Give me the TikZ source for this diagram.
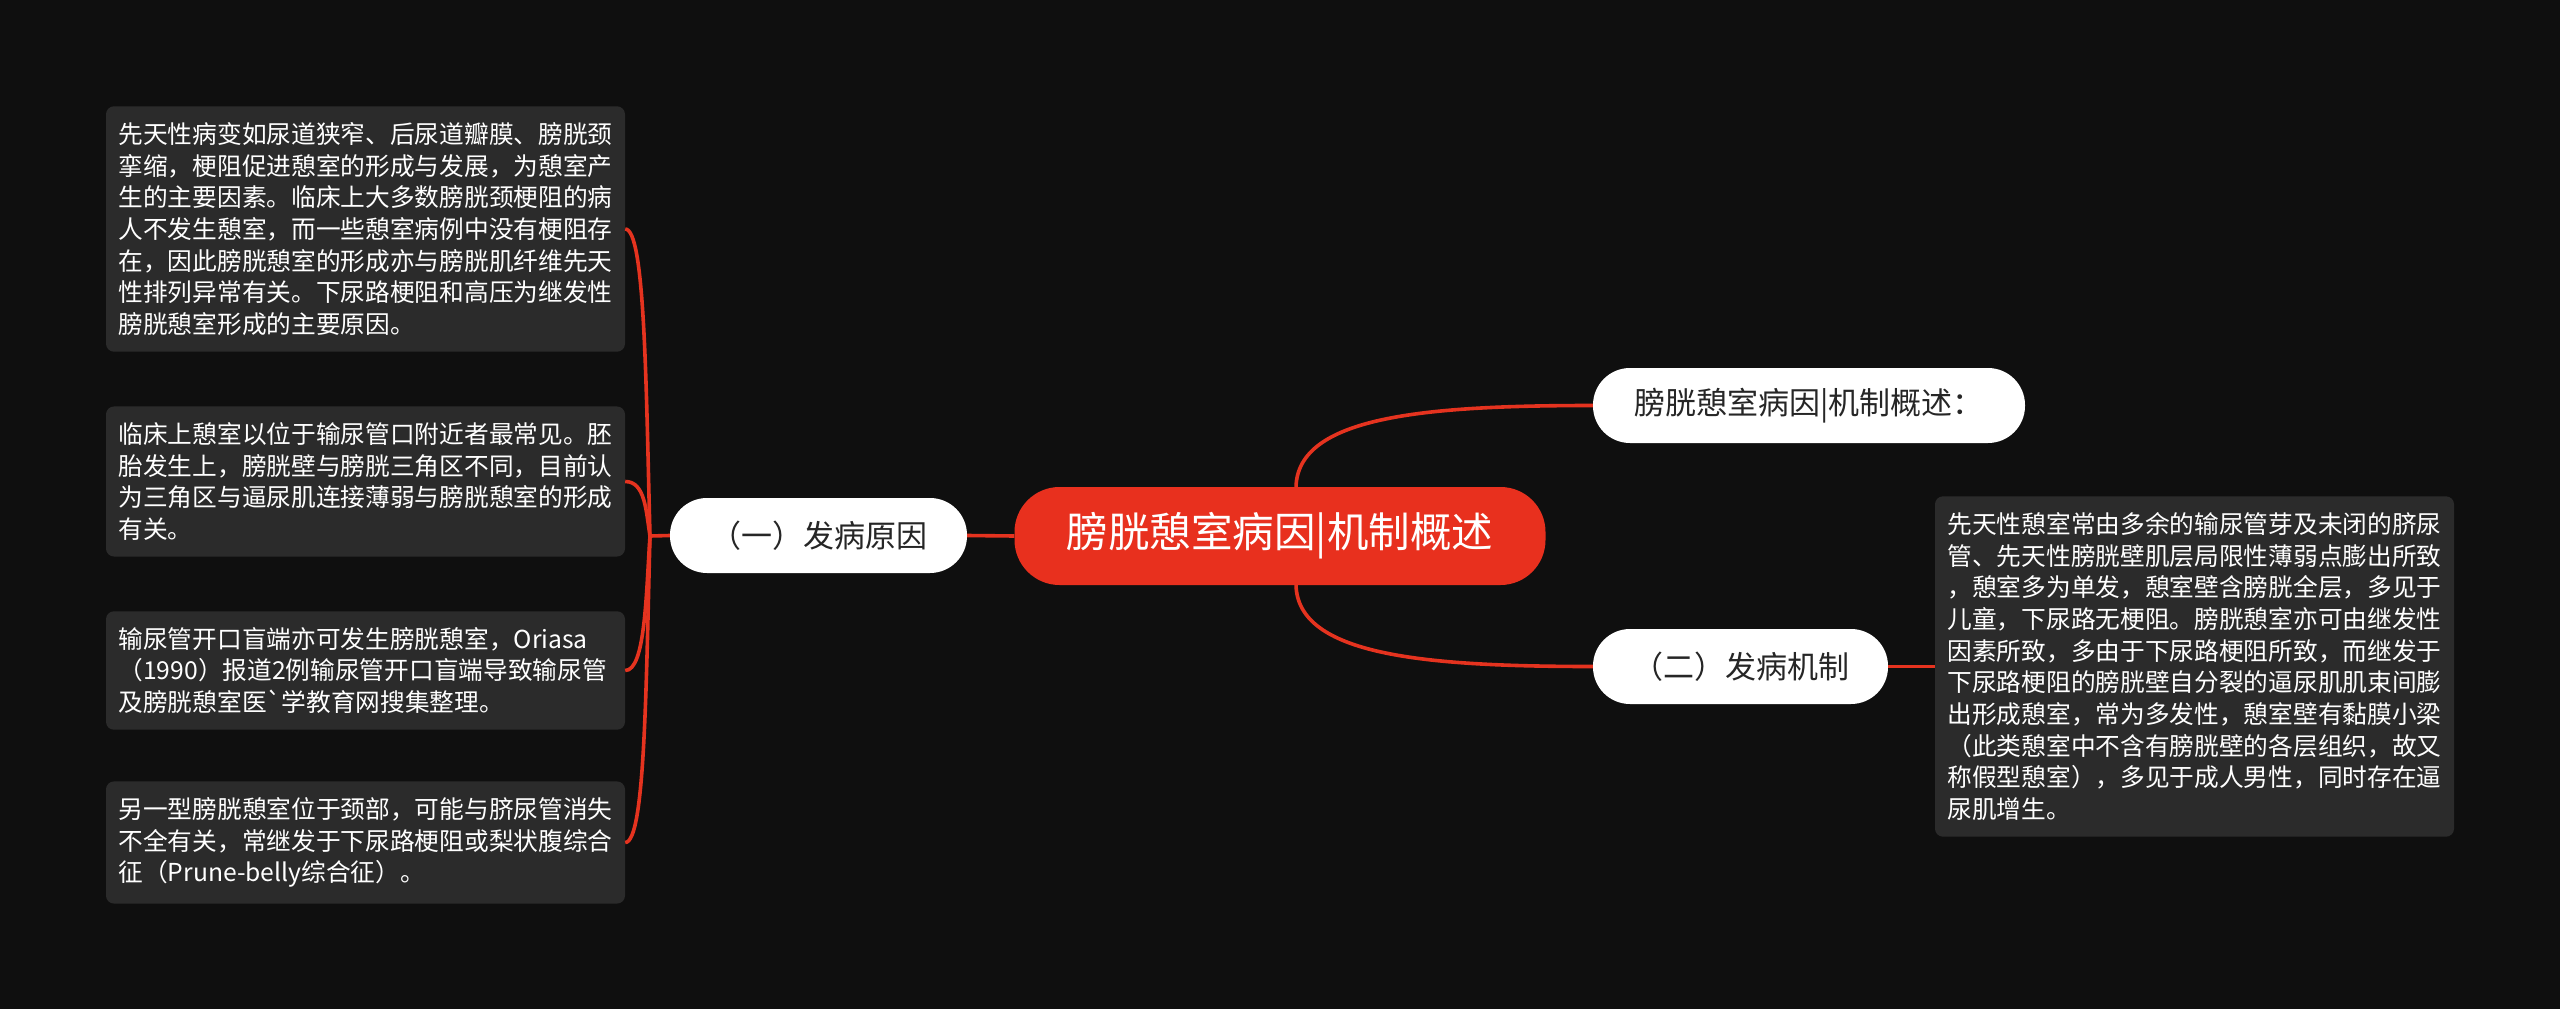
\documentclass[tikz,border=0pt]{standalone}
\usepackage{fontspec}
\setmainfont{Noto Sans CJK SC}[Ligatures=TeXOff]
\definecolor{bgdark}{HTML}{0F0F0F}
\definecolor{leafgray}{HTML}{2B2B2B}
\definecolor{rootred}{HTML}{E8301E}
\definecolor{linkred}{HTML}{E5331F}
\definecolor{pilltext}{HTML}{262626}

\begin{document}
\begin{tikzpicture}[x=1pt,y=-1pt,
      leaf/.style={fill=leafgray,rounded corners=8pt,text=white,text width=494pt,%
        align=left,inner xsep=12.5pt,inner ysep=16pt,font=\fontsize{24.7}{31.7}\selectfont},
      pill/.style={fill=white,text=pilltext,rounded corners=37pt,minimum height=75pt,%
        font=\fontsize{31}{36}\selectfont},
      link/.style={draw=linkred,line width=3.6pt}]
      \fill[bgdark] (0,0) rectangle (2560,1009) ;
      \useasboundingbox (0,0) rectangle (2560,1009) ;
      \node[fill=rootred,text=white,rounded corners=45pt,minimum width=531pt,%
        minimum height=98pt,font=\fontsize{41.5}{48}\selectfont] (root) at (1280,536) {膀胱憩室病因|机制概述} ;
      \node[pill,minimum width=297pt] (cause) at (818.5,535.5) {（一）发病原因} ;
      \node[pill,minimum width=432pt] (sum) at (1809,405.5) {膀胱憩室病因|机制概述：} ;
      \node[pill,minimum width=295pt] (mech) at (1740.5,666.5) {（二）发病机制} ;
      \node[leaf] (c1) at (365.5,229) {先天性病变如尿道狭窄、后尿道瓣膜、膀胱颈\\挛缩，梗阻促进憩室的形成与发展，为憩室产\\生的主要因素。临床上大多数膀胱颈梗阻的病\\人不发生憩室，而一些憩室病例中没有梗阻存\\在，因此膀胱憩室的形成亦与膀胱肌纤维先天\\性排列异常有关。下尿路梗阻和高压为继发性\\膀胱憩室形成的主要原因。} ;
      \node[leaf] (c2) at (365.5,481.5) {临床上憩室以位于输尿管口附近者最常见。胚\\胎发生上，膀胱壁与膀胱三角区不同，目前认\\为三角区与逼尿肌连接薄弱与膀胱憩室的形成\\有关。} ;
      \node[leaf] (c3) at (365.5,670.5) {输尿管开口盲端亦可发生膀胱憩室，Oriasa\\（1990）报道2例输尿管开口盲端导致输尿管\\及膀胱憩室医`学教育网搜集整理。} ;
      \node[leaf] (c4) at (365.5,842.5) {另一型膀胱憩室位于颈部，可能与脐尿管消失\\不全有关，常继发于下尿路梗阻或梨状腹综合\\征（Prune-belly综合征）。} ;
      \node[leaf] (detail) at (2194.5,666.5) {先天性憩室常由多余的输尿管芽及未闭的脐尿\\管、先天性膀胱壁肌层局限性薄弱点膨出所致\\，憩室多为单发，憩室壁含膀胱全层，多见于\\儿童，下尿路无梗阻。膀胱憩室亦可由继发性\\因素所致，多由于下尿路梗阻所致，而继发于\\下尿路梗阻的膀胱壁自分裂的逼尿肌肌束间膨\\出形成憩室，常为多发性，憩室壁有黏膜小梁\\（此类憩室中不含有膀胱壁的各层组织，故又\\称假型憩室），多见于成人男性，同时存在逼\\尿肌增生。} ;
      \coordinate (j) at (650,536) ;
      \draw[link] (root.west)--(cause.east) ;
      \draw[link] (cause.west)--(j) ;
      \draw[link] (j) .. controls +(-4,-150) and +(20,0) .. (c1.east) ;
      \draw[link] (j) .. controls +(-4,-25) and +(20,0) .. (c2.east) ;
      \draw[link] (j) .. controls +(-4,60) and +(20,0) .. (c3.east) ;
      \draw[link] (j) .. controls +(-4,150) and +(20,0) .. (c4.east) ;
      \draw[link] ([xshift=16pt]root.north) .. controls +(2,-70) and +(-170,0) .. (sum.west) ;
      \draw[link] ([xshift=16pt]root.south) .. controls +(2,70) and +(-170,0) .. (mech.west) ;
      \draw[link] (mech.east)--(detail.west) ;
    \end{tikzpicture}
\end{document}
